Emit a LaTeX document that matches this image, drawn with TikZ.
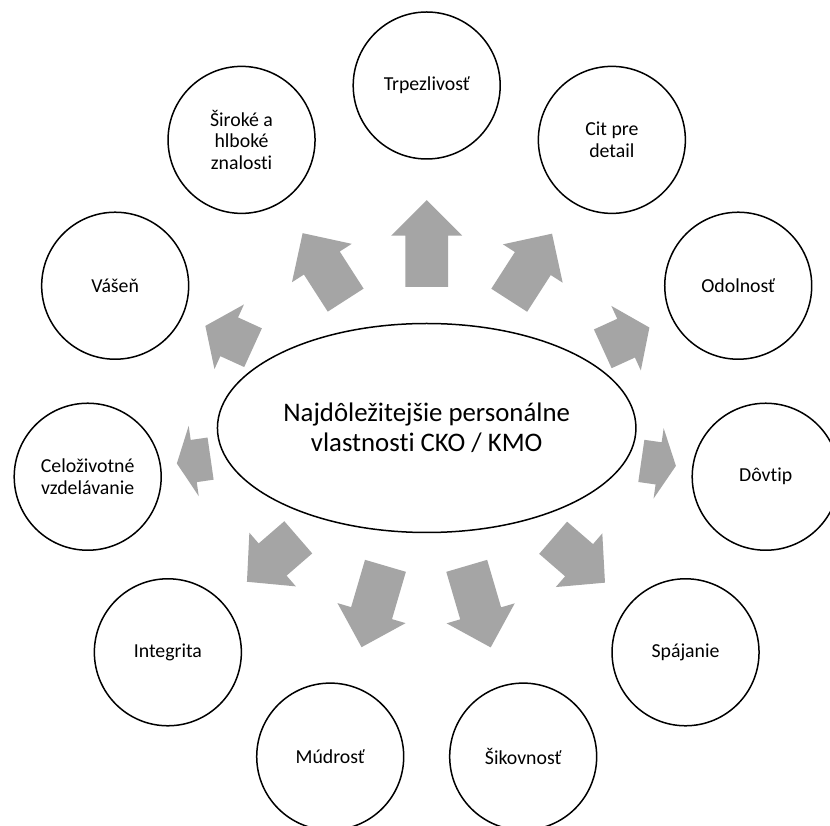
\documentclass[tikz,border=0pt]{standalone}
\usepackage{fontspec}
\setmainfont{Carlito}[Ligatures=NoCommon]
\usetikzlibrary{calc,shapes.geometric}
\definecolor{arrowgray}{HTML}{A5A5A5}
\tikzset{
  bubble/.style={circle, draw=black, line width=1.5pt, minimum size=147pt,
    inner sep=0pt, align=center, font=\fontsize{19.8}{21.8}\selectfont},
  hub/.style={ellipse, draw=black, line width=1.5pt, minimum width=418.5pt,
    minimum height=209pt, inner sep=0pt, align=center,
    font=\fontsize{26.8}{29.8}\selectfont},
  blockarrow/.style={fill=arrowgray, draw=none}
}
\begin{document}
\begin{tikzpicture}[x=1pt,y=1pt]
  \clip (0,0) rectangle (830,825);
  \fill[white] (0,0) rectangle (830,825);
  \coordinate (O) at (426.7,397);
  % central ellipse
  \node[hub] (c) at (O) {Najdôležitejšie personálne\\vlastnosti CKO / KMO};
  % eleven qualities on a circle around the centre
  \foreach \i/\txt in {0/Trpezlivosť, 1/{Široké a\\hlboké\\znalosti}, 2/Vášeň,
      3/{Celoživotné\\vzdelávanie}, 4/Integrita, 5/Múdrosť, 6/Šikovnosť,
      7/Spájanie, 8/Dôvtip, 9/Odolnosť, 10/{Cit pre\\detail}} {
    \node[bubble] (k\i) at ($(O)+({90+\i*360/11}:342.5)$) {\txt};
  }
  % block arrows from the ellipse towards each circle
  \foreach \i in {0,...,10} {
    \pgfmathsetmacro\a{mod(90+\i*360/11,360)}
    \pgfmathsetmacro\b{mod(\a+180,360)}
    \coordinate (t\i) at ($(c.\a)!0.22!(k\i.\b)$);
    \coordinate (p\i) at ($(c.\a)!0.752!(k\i.\b)$);
    \path let \p1=($(p\i)-(t\i)$) in
      \pgfextra{\pgfmathsetmacro\len{veclen(\x1,\y1)}\xdef\arrlen{\len}};
    \pgfmathsetmacro\hd{0.5*min(\arrlen,71)}
    \pgfmathsetmacro\sh{\arrlen-\hd}
    \begin{scope}[shift={(t\i)}, rotate=\a]
      \fill[blockarrow] (0,21.3) -- (\sh,21.3) -- (\sh,35.5) -- (\arrlen,0)
        -- (\sh,-35.5) -- (\sh,-21.3) -- (0,-21.3) -- cycle;
    \end{scope}
  }
\end{tikzpicture}
\end{document}
